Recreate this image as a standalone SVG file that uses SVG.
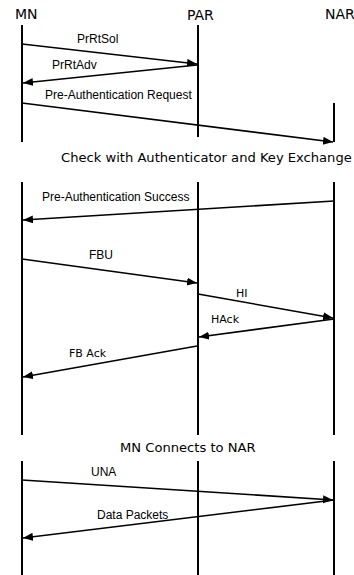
<svg xmlns="http://www.w3.org/2000/svg" width="354" height="575" viewBox="0 0 354 575">
<style>
.life{stroke:#000;stroke-width:2;fill:none}
.msg{stroke:#000;stroke-width:1.6;fill:none;marker-end:url(#ah)}
.head{font-family:"DejaVu Sans",sans-serif;font-size:14px;fill:#000}
.note{font-family:"DejaVu Sans",sans-serif;font-size:13.1px;fill:#000}
.lbl{font-family:"Liberation Sans",Arial,sans-serif;font-size:12px;fill:#000}
.lbl2{font-family:"DejaVu Sans",sans-serif;font-size:11px;fill:#000}
</style>
<defs>
<marker id="ah" markerUnits="userSpaceOnUse" markerWidth="12" markerHeight="10" refX="10" refY="4" orient="auto">
<path d="M0,0 L10,4 L0,8 z" fill="#000"/>
</marker>
</defs>
<rect width="354" height="575" fill="#fff"/>
<g id="MN">
<text class="head" x="15" y="19">MN</text>
<line class="life" x1="22" y1="25" x2="22" y2="142"/>
<line class="life" x1="22" y1="182" x2="22" y2="435"/>
<line class="life" x1="22" y1="461" x2="22" y2="575"/>
</g>
<g id="PAR">
<text class="head" x="187" y="20">PAR</text>
<line class="life" x1="198" y1="25" x2="198" y2="137"/>
<line class="life" x1="198" y1="182" x2="198" y2="435"/>
<line class="life" x1="198" y1="461" x2="198" y2="575"/>
</g>
<g id="NAR">
<text class="head" x="325" y="19">NAR</text>
<line class="life" x1="334" y1="103" x2="334" y2="142"/>
<line class="life" x1="334" y1="182" x2="334" y2="435"/>
<line class="life" x1="334" y1="461" x2="334" y2="575"/>
</g>
<g id="notes">
<text class="note" x="61" y="162">Check with Authenticator and Key Exchange</text>
<text class="note" x="120" y="452">MN Connects to NAR</text>
</g>
<g id="connectors">
<line class="msg" x1="22" y1="44" x2="197" y2="64"/>
<text class="lbl" x="77" y="43">PrRtSol</text>
<line class="msg" x1="197" y1="65" x2="23" y2="83"/>
<text class="lbl" x="52" y="69">PrRtAdv</text>
<line class="msg" x1="22" y1="103" x2="333" y2="142"/>
<text class="lbl" x="45" y="99">Pre-Authentication Request</text>
<line class="msg" x1="334" y1="201" x2="23" y2="220"/>
<text class="lbl" x="42" y="201">Pre-Authentication Success</text>
<line class="msg" x1="22" y1="259" x2="197" y2="283"/>
<text class="lbl" x="89" y="259">FBU</text>
<line class="msg" x1="198" y1="294" x2="333" y2="318"/>
<text class="lbl2" x="236" y="297">HI</text>
<line class="msg" x1="334" y1="319" x2="199" y2="337"/>
<text class="lbl2" x="211" y="323">HAck</text>
<line class="msg" x1="197" y1="346" x2="23" y2="377"/>
<text class="lbl2" x="69" y="357">FB Ack</text>
<line class="msg" x1="22" y1="480" x2="333" y2="500"/>
<text class="lbl" x="91" y="476">UNA</text>
<line class="msg" x1="334" y1="500" x2="23" y2="538"/>
<text class="lbl" x="97" y="519">Data Packets</text>
</g>
</svg>
